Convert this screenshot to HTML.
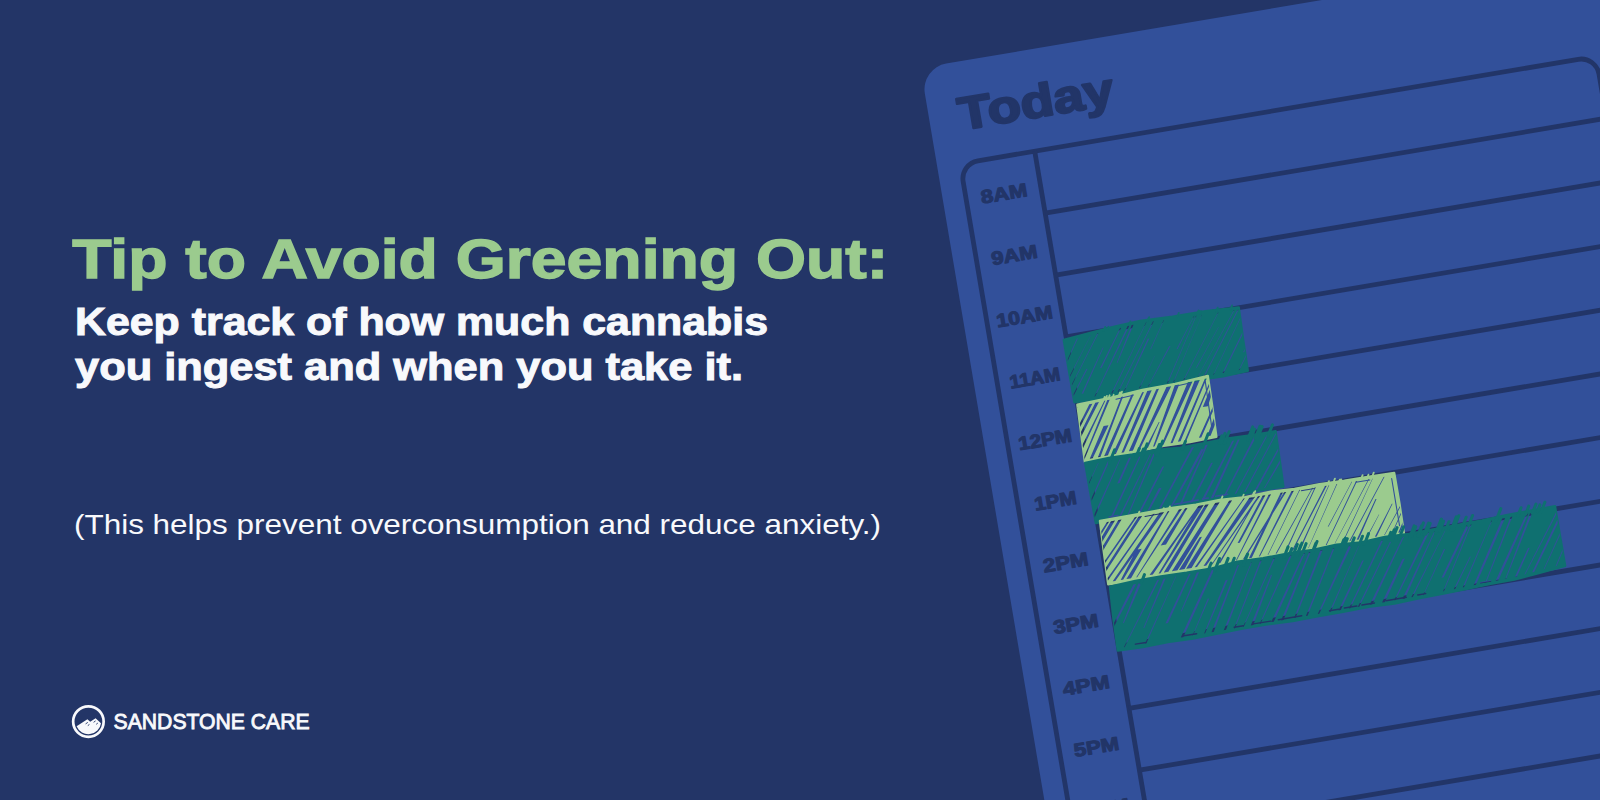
<!DOCTYPE html>
<html lang="en">
<head>
<meta charset="utf-8">
<title>Tip to Avoid Greening Out</title>
<style>
html,body{margin:0;padding:0;background:#233567;}
body{width:1600px;height:800px;overflow:hidden;position:relative;font-family:"Liberation Sans",sans-serif;}
svg{position:absolute;left:0;top:0;display:block;}
text{font-family:"Liberation Sans",sans-serif;}
</style>
</head>
<body>
<svg width="1600" height="800" viewBox="0 0 1600 800">
  <rect width="1600" height="800" fill="#233567"/>
  <!-- planner card -->
  <g id="card" transform="translate(920.5,67.9) rotate(-9.6)">
    <rect x="0" y="0" width="760" height="900" rx="26" fill="#32509a"/>
    <text x="29.6" y="68.2" font-size="46" font-weight="700" fill="#223568" stroke="#223568" stroke-width="2.2" stroke-linejoin="round" textLength="157" lengthAdjust="spacingAndGlyphs">Today</text>
    <g fill="none" stroke="#223568" stroke-width="4.8">
      <rect x="23.1" y="101.2" width="644.9" height="900" rx="18"/>
      <line x1="98.7" y1="101.2" x2="98.7" y2="900"/>
      <line x1="98.7" y1="164" x2="668" y2="164"/>
      <line x1="98.7" y1="226.8" x2="668" y2="226.8"/>
      <line x1="98.7" y1="289.5" x2="668" y2="289.5"/>
      <line x1="98.7" y1="352.3" x2="668" y2="352.3"/>
      <line x1="98.7" y1="415.1" x2="668" y2="415.1"/>
      <line x1="98.7" y1="477.9" x2="668" y2="477.9"/>
      <line x1="98.7" y1="540.7" x2="668" y2="540.7"/>
      <line x1="98.7" y1="603.4" x2="668" y2="603.4"/>
      <line x1="98.7" y1="666.2" x2="668" y2="666.2"/>
      <line x1="98.7" y1="729" x2="668" y2="729"/>
      <line x1="98.7" y1="791.8" x2="668" y2="791.8"/>
    </g>
    <g id="labels" font-size="18.8" font-weight="700" fill="#223568" stroke="#223568" stroke-width="1.1" stroke-linejoin="round">
      <text x="38" y="144.3" textLength="46.7" lengthAdjust="spacingAndGlyphs">8AM</text>
      <text x="38" y="206.6" textLength="46.5" lengthAdjust="spacingAndGlyphs">9AM</text>
      <text x="32.6" y="268.9" textLength="57" lengthAdjust="spacingAndGlyphs">10AM</text>
      <text x="35.5" y="331.3" textLength="51" lengthAdjust="spacingAndGlyphs">11AM</text>
      <text x="33.9" y="393.6" textLength="54" lengthAdjust="spacingAndGlyphs">12PM</text>
      <text x="39.5" y="455.9" textLength="42.5" lengthAdjust="spacingAndGlyphs">1PM</text>
      <text x="37.9" y="518.2" textLength="45.5" lengthAdjust="spacingAndGlyphs">2PM</text>
      <text x="37.7" y="580.5" textLength="45.5" lengthAdjust="spacingAndGlyphs">3PM</text>
      <text x="36.9" y="642.9" textLength="47" lengthAdjust="spacingAndGlyphs">4PM</text>
      <text x="37.5" y="705.2" textLength="45.5" lengthAdjust="spacingAndGlyphs">5PM</text>
      <text x="37.1" y="767.5" textLength="46" lengthAdjust="spacingAndGlyphs">6PM</text>
    </g>
    <g id="bars">
      <mask id="m1" maskUnits="userSpaceOnUse" x="0" y="200" width="760" height="500"><path d="M95.9 292 L124.2 289.6 L149.2 287.4 L174.3 286 L207 287.3 L240.4 287.5 L273.8 289.3 L272.8 321.2 L272.2 353.2 L247 354.5 L221.9 353.8 L196.7 354.5 L171.5 355.5 L146.3 354.8 L121.2 356.2 L96 355.5 L95.9 323.8 Z" fill="#fff" stroke="#fff" stroke-width="2.4" stroke-linejoin="round"/><clipPath id="c1"><path d="M95.9 292 L124.2 289.6 L149.2 287.4 L174.3 286 L207 287.3 L240.4 287.5 L273.8 289.3 L272.8 321.2 L272.2 353.2 L247 354.5 L221.9 353.8 L196.7 354.5 L171.5 355.5 L146.3 354.8 L121.2 356.2 L96 355.5 L95.9 323.8 Z"/></clipPath><path clip-path="url(#c1)" d="M54.1 353.8 L54.5 353.8 L94.8 294.3 L93.7 294.3Z M69.4 342 L71.1 342 L95.7 309.1 L94.2 309.1Z M68.7 353.7 L69.1 353.7 L110 293 L109 293Z M77.1 353.5 L78.4 353.5 L123.5 291.9 L123.1 291.9Z M84.5 353.4 L85.1 353.4 L131.2 291.3 L130.2 291.3Z M91.8 353.3 L92.9 353.3 L114.6 324.5 L113.3 324.5Z M104.5 348.2 L106.1 348.2 L133.8 306.3 L132.9 306.3Z M127 325.9 L128.6 325.9 L154.5 289.7 L153.4 289.7Z M116.7 353 L117.6 353 L162.9 289.1 L161.2 289.1Z M144.3 323.5 L145.1 323.5 L167.2 288.8 L165.4 288.8Z M133.8 352.8 L135 352.8 L180.4 288.4 L180 288.4Z M140.2 352.7 L141.2 352.7 L187.8 288.7 L187 288.7Z M146.7 352.6 L147.4 352.6 L180.5 305 L178.9 305Z M179.6 315.6 L180.5 315.6 L198.1 289.1 L197.7 289.1Z M162 352.4 L162.7 352.4 L183.1 323 L182.7 323Z M170.9 352.3 L171.4 352.3 L200.1 316 L198.7 316Z M205.4 320 L206.6 320 L228.7 290.1 L228.3 290.1Z M190.4 352.1 L191.3 352.1 L230.9 290.2 L230.4 290.2Z M196.7 352 L197.5 352 L236.4 290.4 L236.2 290.4Z M207 351.8 L207.9 351.8 L253 290.9 L252.5 290.9Z M221.6 341.7 L222.4 341.7 L250.9 305.1 L250.5 305.1Z M221.2 351.7 L221.6 351.7 L269.1 291.3 L268.4 291.3Z M227.6 351.6 L228.6 351.6 L273.3 291.5 L272.1 291.5Z M237.3 351.5 L237.9 351.5 L279.8 291.7 L279 291.7Z M246.9 351.3 L248.1 351.3 L290.8 292 L289.2 292Z M270.6 334.1 L271.9 334.1 L305 292.4 L304.6 292.4Z M263.3 351.1 L264.1 351.1 L306.4 292.5 L304.9 292.5Z" fill="#000"/></mask>
      <rect mask="url(#m1)" x="0" y="200" width="760" height="500" fill="#0f7070"/>
      <path d="M265 290.5 l2.6 -4.4 M163.1 287.7 l1.6 -2.7 M140.5 289.3 l1.6 -2.7 M136.7 289.9 l2.2 -3.7 M250.6 290 l2.5 -4.1 M181.7 287.6 l2.2 -3.7 M234.5 289 l1.5 -2.4 M211.3 288.9 l2.6 -4.3 M231.3 289.4 l2.4 -3.9 M181.7 287.2 l1.6 -2.7 M232.6 289.1 l1.8 -3" fill="none" stroke="#0f7070" stroke-width="1.8" stroke-linecap="round"/>
      <mask id="m2" maskUnits="userSpaceOnUse" x="0" y="200" width="760" height="500"><path d="M98.5 358.2 L131.8 357.1 L165 354.6 L198.5 354.1 L231.9 351.6 L231.2 382.3 L230.2 413 L203.4 413.8 L176.7 413.2 L149.9 414.3 L123.2 416.1 L96.4 416 Z" fill="#fff" stroke="#fff" stroke-width="2.4" stroke-linejoin="round"/><clipPath id="c2"><path d="M98.5 358.2 L131.8 357.1 L165 354.6 L198.5 354.1 L231.9 351.6 L231.2 382.3 L230.2 413 L203.4 413.8 L176.7 413.2 L149.9 414.3 L123.2 416.1 L96.4 416 Z"/></clipPath><path clip-path="url(#c2)" d="M61.5 414.6 L63.4 414.6 L98.4 360.5 L93.6 360.5Z M70.8 414.4 L72 414.4 L113.5 359.7 L110.4 359.7Z M76.9 414.2 L79 414.2 L120.2 359.3 L116.5 359.3Z M85.7 414 L88.5 414 L126.9 358.9 L125.7 358.9Z M94.7 413.8 L96 413.8 L131.2 358.7 L128.8 358.7Z M101.7 413.6 L104.7 413.6 L125.8 383.7 L120.8 383.7Z M110 413.5 L112.6 413.5 L145 357.9 L143 357.9Z M116.4 413.3 L120.2 413.3 L155.8 357.4 L153.5 357.4Z M124.6 413.1 L128.4 413.1 L166.3 356.8 L164.5 356.8Z M134 412.9 L136.5 412.9 L174.2 356.5 L169.7 356.5Z M141.5 412.7 L145.7 412.7 L181.6 356.1 L178.9 356.1Z M150.5 412.6 L152.7 412.6 L194.1 355.6 L189.3 355.6Z M158.5 412.4 L160.9 412.4 L176.7 388.9 L175.9 388.9Z M166.1 412.2 L167.8 412.2 L202.3 355.2 L197.8 355.2Z M174.6 412 L176.7 412 L215.9 354.6 L211.1 354.6Z M183.9 411.8 L186 411.8 L223.3 354.3 L218.1 354.3Z M191.4 411.6 L194.1 411.6 L230.4 353.9 L228.5 353.9Z M198.3 411.5 L200.3 411.5 L237 353.6 L235.6 353.6Z M221.8 381.5 L226.9 381.5 L241.6 353.4 L239.2 353.4Z M212.8 411.2 L215.2 411.2 L253.8 352.9 L251.8 352.9Z M221.2 411 L224.7 411 L260 352.6 L255.1 352.6Z" fill="#000"/><path d="M228.5 356.6 L227.2 404" fill="none" stroke="#000" stroke-width="1.1" stroke-linecap="round"/><path d="M137.5 359.4 L155.1 358.2 M200.6 356.3 L211.8 355.6" fill="none" stroke="#000" stroke-width="1" stroke-linecap="round"/></mask>
      <rect mask="url(#m2)" x="0" y="200" width="760" height="500" fill="#9bcb8e"/>
      <path d="M134.5 357.1 l1.5 -2.6 M125.3 357.5 l1.4 -2.4 M130 357.5 l1.9 -3.2 M142 357.3 l2.7 -4.5 M140.4 357.1 l2.3 -3.8 M127.1 357.7 l2 -3.3" fill="none" stroke="#9bcb8e" stroke-width="1.8" stroke-linecap="round"/>
      <mask id="m3" maskUnits="userSpaceOnUse" x="0" y="200" width="760" height="500"><path d="M96.5 417 L120.6 416 L144.8 416.6 L168.9 416.1 L193 417.8 L217.1 417.4 L241.3 416.7 L265.4 417.4 L289.5 417.5 L288 473.4 L260.7 473.1 L233.4 475.6 L206.1 474.7 L178.9 476.2 L151.6 476.7 L124.3 476.6 L97 478 L96.6 447.5 Z" fill="#fff" stroke="#fff" stroke-width="2.4" stroke-linejoin="round"/><clipPath id="c3"><path d="M96.5 417 L120.6 416 L144.8 416.6 L168.9 416.1 L193 417.8 L217.1 417.4 L241.3 416.7 L265.4 417.4 L289.5 417.5 L288 473.4 L260.7 473.1 L233.4 475.6 L206.1 474.7 L178.9 476.2 L151.6 476.7 L124.3 476.6 L97 478 L96.6 447.5 Z"/></clipPath><path clip-path="url(#c3)" d="M58.4 476.7 L59.9 476.7 L91.9 431.2 L89.8 431.2Z M69.6 476.4 L71.1 476.4 L109.7 419.2 L109.2 419.2Z M81.4 476.2 L82.7 476.2 L120.6 419.3 L119 419.3Z M92.4 475.9 L94.4 475.9 L131.8 419.3 L131 419.3Z M124.7 442.5 L127.1 442.5 L142.5 419.3 L140.4 419.3Z M112.1 475.4 L114.2 475.4 L152.5 419.3 L151.2 419.3Z M121.3 475.2 L123.1 475.2 L162.7 419.4 L161.7 419.4Z M129.8 475 L131 475 L167 419.4 L165.2 419.4Z M141.1 474.7 L143.2 474.7 L173.9 433.5 L172 433.5Z M149.9 474.5 L151.9 474.5 L167.8 454.1 L164.9 454.1Z M161.6 474.2 L163.5 474.2 L206.4 419.5 L204.1 419.5Z M173.5 473.9 L175.7 473.9 L218.9 419.5 L215.9 419.5Z M182.7 473.7 L184.8 473.7 L220.3 419.5 L218.7 419.5Z M193.4 473.5 L195.7 473.5 L222.4 438.1 L220.6 438.1Z M205 473.2 L207.6 473.2 L247.2 419.6 L245.3 419.6Z M214.2 472.9 L216.9 472.9 L252.7 419.6 L250.7 419.6Z M227.6 472.6 L229.3 472.6 L269.4 419.6 L267.2 419.6Z M238.7 472.4 L240.3 472.4 L281.3 419.7 L280.1 419.7Z M248.3 472.1 L249.8 472.1 L290.1 419.7 L289 419.7Z M259.3 471.9 L261.6 471.9 L302.6 419.7 L301.3 419.7Z M268.6 471.7 L269.6 471.7 L314.1 419.8 L310.9 419.8Z M294.7 451.8 L296.6 451.8 L323 419.8 L321.3 419.8Z" fill="#000"/><path d="M111.1 474.3 L120 474.2 M177.9 472.7 L201.9 472.3 M206.1 472 L212.1 472 M219.7 471.6 L231.8 471.6" fill="none" stroke="#000" stroke-width="1.5" stroke-linecap="round"/></mask>
      <rect mask="url(#m3)" x="0" y="200" width="760" height="500" fill="#0f7070"/>
      <path d="M268.1 421.2 l6.8 -11.3 M264.2 420.2 l4.9 -8.2 M169.3 420.2 l5.4 -8.9 M281.2 421 l6.3 -10.4 M167.2 420.3 l5.5 -9.2 M152.5 419.3 l3.8 -6.4 M120.3 421.2 l7.4 -12.3 M153 421.5 l7.8 -13 M147.5 419.8 l4.8 -8 M194.5 419.7 l4.5 -7.4 M168.7 421.6 l7.9 -13.2 M260.4 421.5 l7.3 -12.1 M214.9 421.6 l7.7 -12.9 M270.9 420.8 l6.1 -10.1 M232 419.5 l3.8 -6.4 M233.7 420.5 l5.6 -9.4 M237.1 421 l6.5 -10.8 M154.5 419.3 l3.8 -6.4 M269 419.8 l4.2 -7" fill="none" stroke="#0f7070" stroke-width="3" stroke-linecap="round"/>
      <mask id="m4" maskUnits="userSpaceOnUse" x="0" y="200" width="760" height="500"><path d="M101.4 476.7 L125.7 476.5 L150 476.1 L174.4 475.8 L198.7 476.7 L223 476 L248.2 477.4 L273.4 476.2 L298.6 477.4 L323.9 476.9 L349.1 477.8 L374.3 477.8 L399.5 478.4 L399.6 509.3 L399 540.2 L374 541 L349 540.9 L324 539.4 L299 540.3 L274 540.9 L249 539.5 L224 539.3 L199 540.5 L174 541.2 L149 541.1 L124 541.4 L99 540.5 L100 508.6 Z" fill="#fff" stroke="#fff" stroke-width="2.4" stroke-linejoin="round"/><clipPath id="c4"><path d="M101.4 476.7 L125.7 476.5 L150 476.1 L174.4 475.8 L198.7 476.7 L223 476 L248.2 477.4 L273.4 476.2 L298.6 477.4 L323.9 476.9 L349.1 477.8 L374.3 477.8 L399.5 478.4 L399.6 509.3 L399 540.2 L374 541 L349 540.9 L324 539.4 L299 540.3 L274 540.9 L249 539.5 L224 539.3 L199 540.5 L174 541.2 L149 541.1 L124 541.4 L99 540.5 L100 508.6 Z"/></clipPath><path clip-path="url(#c4)" d="M46.7 538.4 L49.3 538.4 L98.2 478.9 L95 478.9Z M54.7 538.3 L58.8 538.3 L110.2 478.9 L108.1 478.9Z M74.5 523.4 L77.8 523.4 L116.3 478.8 L112.2 478.8Z M68.8 538.3 L72.4 538.3 L122.9 478.8 L119.7 478.8Z M78.7 538.3 L80.6 538.3 L138.7 478.7 L136.4 478.7Z M86.1 538.3 L89 538.3 L143.8 478.7 L140.2 478.7Z M95.3 538.3 L97.9 538.3 L156.5 478.6 L154.9 478.6Z M103.9 538.3 L106.5 538.3 L166.1 478.5 L161.6 478.5Z M112 538.3 L114.6 538.3 L137.9 511.1 L132.4 511.1Z M117.8 538.3 L122.5 538.3 L171.5 478.5 L169.9 478.5Z M127.8 538.3 L128.7 538.3 L184.2 478.4 L181.2 478.4Z M157.2 510.9 L162.6 510.9 L189.9 478.4 L187.5 478.4Z M141.3 538.3 L144.6 538.3 L202.8 478.3 L200.9 478.3Z M150.4 538.2 L152.4 538.2 L206.3 478.3 L201.7 478.3Z M155.7 538.2 L160.4 538.2 L211.4 478.3 L207.8 478.3Z M163.9 538.2 L169.6 538.2 L222.5 478.2 L218 478.2Z M171.1 538.2 L176.8 538.2 L199.3 509.3 L197 509.3Z M178.3 538.2 L183.9 538.2 L235.1 478.3 L232.1 478.3Z M187.1 538.2 L189.4 538.2 L248 478.5 L246.7 478.5Z M196 538.2 L198.9 538.2 L258.4 478.6 L252.6 478.6Z M203.9 538.2 L205.1 538.2 L263.5 478.7 L261.3 478.7Z M211.2 538.2 L213.1 538.2 L262.3 478.7 L261.3 478.7Z M233.4 521.4 L235.6 521.4 L268.8 478.8 L266.1 478.8Z M228.8 538.2 L229.8 538.2 L274.5 478.9 L272.1 478.9Z M236 538.2 L237.7 538.2 L289.9 479.1 L287.7 479.1Z M242 538.2 L245 538.2 L286.5 479 L284.3 479Z M252.1 538.1 L253.3 538.1 L297.6 479.2 L295.1 479.2Z M261 538.1 L261.7 538.1 L303.9 479.3 L303.1 479.3Z M269.2 538.1 L270.3 538.1 L317 479.5 L316.1 479.5Z M278.5 538.1 L279.8 538.1 L319.8 479.5 L318.7 479.5Z M285.6 538.1 L286.8 538.1 L330.9 479.7 L329.1 479.7Z M292.8 538.1 L294.5 538.1 L333.4 479.7 L332.7 479.7Z M302.2 538.1 L302.6 538.1 L341.5 479.8 L340.7 479.8Z M325 520.3 L325.9 520.3 L356.6 480 L356.1 480Z M320 538.1 L320.9 538.1 L361.7 480.1 L360.4 480.1Z M329 538.1 L329.4 538.1 L373.9 480.2 L373 480.2Z M336.9 538.1 L337.9 538.1 L377.5 480.3 L377.1 480.3Z M343.8 538.1 L345 538.1 L389.4 480.5 L388.4 480.5Z M351.4 538 L353.4 538 L377.8 501 L376.7 501Z M360.8 538 L361.9 538 L377.8 516.9 L377.4 516.9Z M369.8 538 L371.7 538 L392.8 508.4 L392 508.4Z M379.3 538 L379.9 538 L425.5 480.9 L423.9 480.9Z M386.8 538 L387.6 538 L425.5 480.9 L424.4 480.9Z M393.5 538 L395.1 538 L431.3 481 L430.5 481Z" fill="#000"/><path d="M396.1 483.4 L396 531.2" fill="none" stroke="#000" stroke-width="1.1" stroke-linecap="round"/><path d="M146.5 479.7 L162.1 479.5 M305 480.4 L318.5 480.4 M360.2 481.2 L374.3 481.2" fill="none" stroke="#000" stroke-width="1" stroke-linecap="round"/></mask>
      <rect mask="url(#m4)" x="0" y="200" width="760" height="500" fill="#9bcb8e"/>
      <path d="M256.5 478.1 l3 -5 M139.6 477.7 l2.2 -3.7 M337 479.3 l3.1 -5.2 M164.9 477.2 l1.6 -2.6 M376.3 479.8 l3.1 -5.2 M246.1 477.1 l1.4 -2.4 M371.8 479.2 l2 -3.4 M365.5 479.3 l2.5 -4.1 M343.1 478.6 l1.6 -2.7 M332.1 478.5 l1.7 -2.9 M223.4 477.6 l2.9 -4.8 M344.4 478.6 l1.7 -2.8 M170.7 477.4 l2.1 -3.4 M255.9 477.6 l2 -3.4" fill="none" stroke="#9bcb8e" stroke-width="1.8" stroke-linecap="round"/>
      <mask id="m5" maskUnits="userSpaceOnUse" x="0" y="200" width="760" height="500"><path d="M100.3 543 L126.2 541.7 L152.2 541.6 L178.2 542.2 L204.1 542.2 L230.1 539.8 L256 540.6 L282 540 L306.4 540.8 L330.8 539.4 L355.2 541.3 L379.6 540 L404 541 L428.8 540.7 L453.5 540.1 L478.3 539.8 L503 538.6 L527.7 538.3 L552.5 538 L552.5 568.3 L552.6 598.5 L526.3 601.2 L500 603.5 L476 603.8 L452 604.9 L428 605.5 L404 606 L378 607.3 L352 606.2 L326 606.8 L300 607 L274.7 607.6 L249.3 606.5 L224 606.5 L198.7 607.3 L173.4 608 L148.1 607.4 L122.7 608.2 L97.4 607.4 L98.4 575.2 Z" fill="#fff" stroke="#fff" stroke-width="2.4" stroke-linejoin="round"/><clipPath id="c5"><path d="M100.3 543 L126.2 541.7 L152.2 541.6 L178.2 542.2 L204.1 542.2 L230.1 539.8 L256 540.6 L282 540 L306.4 540.8 L330.8 539.4 L355.2 541.3 L379.6 540 L404 541 L428.8 540.7 L453.5 540.1 L478.3 539.8 L503 538.6 L527.7 538.3 L552.5 538 L552.5 568.3 L552.6 598.5 L526.3 601.2 L500 603.5 L476 603.8 L452 604.9 L428 605.5 L404 606 L378 607.3 L352 606.2 L326 606.8 L300 607 L274.7 607.6 L249.3 606.5 L224 606.5 L198.7 607.3 L173.4 608 L148.1 607.4 L122.7 608.2 L97.4 607.4 L98.4 575.2 Z"/></clipPath><path clip-path="url(#c5)" d="M58.9 605.3 L59.5 605.3 L100.3 545.2 L98.4 545.2Z M69.3 605.3 L71.4 605.3 L96.9 563.1 L95.7 563.1Z M79.3 605.2 L81.2 605.2 L126.5 544.8 L123.8 544.8Z M106.9 581.2 L108 581.2 L131.8 544.7 L128.9 544.7Z M103.9 605.2 L104.6 605.2 L149.9 544.4 L148.1 544.4Z M126.3 589.5 L127.2 589.5 L156.5 544.3 L154.5 544.3Z M125.4 605.1 L126.7 605.1 L167.2 544.1 L166.7 544.1Z M148.8 588.7 L151.4 588.7 L182 543.9 L180.4 543.9Z M166.2 579.2 L167 579.2 L190.6 543.7 L188.4 543.7Z M161.6 605.1 L164.2 605.1 L206 543.5 L203.7 543.5Z M173.5 605 L174 605 L196.2 571.2 L194.7 571.2Z M185.3 605 L186.4 605 L217.6 556 L215.4 556Z M192.8 605 L195 605 L231.2 543.1 L229.8 543.1Z M205.2 605 L207.5 605 L244.2 542.8 L243.5 542.8Z M215.6 605 L216.7 605 L254.2 542.7 L252.6 542.7Z M224.8 604.9 L225.5 604.9 L267.8 542.4 L266.4 542.4Z M232.6 604.9 L235.2 604.9 L262.1 558.5 L260.9 558.5Z M241.5 604.9 L242.5 604.9 L285 542.2 L283.2 542.2Z M253.3 604.9 L256 604.9 L298.4 542.3 L296.7 542.3Z M263.4 604.9 L265.9 604.9 L303.9 542.4 L302.3 542.4Z M276.6 604.8 L278.2 604.8 L316.1 542.5 L313.8 542.5Z M288.6 604.8 L290.3 604.8 L328 542.6 L326.6 542.6Z M300.6 604.8 L302.1 604.8 L345.4 542.7 L342.8 542.7Z M312.4 604.7 L313.8 604.7 L353.7 542.8 L353.2 542.8Z M321.6 604.6 L324 604.6 L355 559.5 L353.5 559.5Z M332.2 604.5 L333.7 604.5 L377.2 543 L375.5 543Z M341.2 604.4 L342.8 604.4 L386.9 543.1 L385.7 543.1Z M353.4 604.3 L356.1 604.3 L398.4 543.1 L397.2 543.1Z M365.9 604.2 L368.7 604.2 L395.7 564.5 L393.4 564.5Z M378.2 604 L379.4 604 L424 542.8 L421.6 542.8Z M386.5 604 L389.2 604 L430.2 542.7 L429.3 542.7Z M395.6 603.9 L397.1 603.9 L441.3 542.5 L440.8 542.5Z M407.5 603.7 L408.2 603.7 L437.1 561.8 L435.8 561.8Z M428.7 589.5 L431 589.5 L465 542 L462.3 542Z M428 603.2 L428.9 603.2 L467.2 541.9 L466 541.9Z M438.9 602.9 L440.3 602.9 L461.1 573.5 L460.1 573.5Z M448 602.6 L449.3 602.6 L488.1 541.5 L487.5 541.5Z M459.1 602.3 L461.4 602.3 L501.3 541.3 L498.4 541.3Z M470.8 602 L471.8 602 L508.8 541.1 L506.9 541.1Z M481.5 601.7 L484.2 601.7 L525 540.8 L522.9 540.8Z M491.3 601.5 L492.1 601.5 L529.2 540.7 L526.7 540.7Z M501.1 601.1 L503.2 601.1 L520.6 574.8 L519 574.8Z M511 600.2 L511.9 600.2 L557.1 540.1 L555.5 540.1Z M519 599.4 L521 599.4 L563.3 540 L560.8 540Z M530.8 598.3 L531.5 598.3 L571.6 539.8 L569.7 539.8Z M543.1 597.2 L544.1 597.2 L580.9 539.6 L579.3 539.6Z" fill="#000"/><path d="M115.8 604 L126.4 604.1 M165 603.9 L177.9 604 M216 603.8 L225.4 603.9 M235.5 603.7 L253.1 603.9 M260.8 603.7 L284.5 603.8 M312.8 603.5 L321.9 603.6 M327.9 603.3 L340.4 603.4 M345.7 603.2 L358.3 603.2 M370.1 602.9 L390.7 602.9 M402.4 602.6 L410.4 602.6 M466.4 601 L476.6 600.9" fill="none" stroke="#000" stroke-width="1.5" stroke-linecap="round"/></mask>
      <rect mask="url(#m5)" x="0" y="200" width="760" height="500" fill="#0f7070"/>
      <path d="M430.4 544.7 l7.7 -12.8 M294.7 543.6 l6.2 -10.3 M434.7 543.4 l5.5 -9.2 M206.2 545 l6.8 -11.4 M491.6 543.1 l7.1 -11.8 M412.6 544.9 l7.4 -12.4 M403.9 544.6 l6.5 -10.8 M305.5 543 l5 -8.3 M382.3 543.1 l4 -6.7 M289.8 544 l7.1 -11.9 M418.7 544.2 l6.4 -10.7 M216 544.1 l5.5 -9.2 M305.6 543.8 l6.4 -10.7 M285.5 543.7 l6.6 -11.1 M514.4 541.2 l4.4 -7.4 M392.7 544.9 l7.1 -11.8 M276.7 543.3 l5.8 -9.7 M534.1 540.4 l3.8 -6.3 M345 542.9 l4.3 -7.2 M448.3 544.4 l7.8 -13.1 M334.5 542.7 l4.1 -6.8 M358.1 544 l6 -10.1 M420.7 543.9 l5.9 -9.8 M386 544.9 l7.3 -12.2 M335.1 543.5 l5.4 -9.1 M522.2 541.1 l4.5 -7.6 M406.4 543.9 l5.4 -8.9 M441.1 542.5 l4.2 -6.9 M538 541.1 l5.2 -8.7 M131.5 545.1 l4.8 -8.1 M282.2 542 l3.7 -6.1 M289.9 543.1 l5.5 -9.2 M412.5 543.7 l5.2 -8.6 M223 543.5 l4.6 -7.7 M430.6 544.8 l7.8 -13 M337.7 543 l4.6 -7.6 M457.7 542.9 l5.4 -8.9 M199.8 543.7 l4.2 -7 M446.2 544.1 l7.2 -12.1 M384.3 544 l5.7 -9.5 M353.1 543.2 l4.6 -7.7 M528.9 541.3 l5.2 -8.6 M385.8 544.9 l7.3 -12.1 M464 542.9 l5.7 -9.5 M235.3 544.1 l6.1 -10.1" fill="none" stroke="#0f7070" stroke-width="3" stroke-linecap="round"/>
    </g>
  </g>
  <!-- headline -->
  <text x="72.2" y="278.2" font-size="56" font-weight="700" fill="#9bcb8e" stroke="#9bcb8e" stroke-width="1.4" textLength="816" lengthAdjust="spacingAndGlyphs">Tip to Avoid Greening Out:</text>
  <text x="75" y="334.9" font-size="38" font-weight="700" fill="#f8f9fc" stroke="#f8f9fc" stroke-width="1.0" textLength="693" lengthAdjust="spacingAndGlyphs">Keep track of how much cannabis</text>
  <text x="75" y="379.6" font-size="38" font-weight="700" fill="#f8f9fc" stroke="#f8f9fc" stroke-width="1.0" textLength="668" lengthAdjust="spacingAndGlyphs">you ingest and when you take it.</text>
  <text x="74" y="534.2" font-size="28.3" fill="#f8f9fc" textLength="807" lengthAdjust="spacingAndGlyphs">(This helps prevent overconsumption and reduce anxiety.)</text>
  <!-- logo -->
  <g id="logo">
    <circle cx="88.4" cy="721.55" r="15.25" fill="none" stroke="#f8f9fc" stroke-width="2.7"/>
    <path d="M76.6 726.3 L87.4 719.2 L90.2 721.8 L95.6 718.3 L101.0 723.2 A12.75 12.75 0 0 1 76.6 726.3 Z" fill="#f8f9fc"/>
    <path d="M85.6 723.9 l2.2 -1.5 M87.8 725.6 l1.6 -1.1 M93.6 722.3 l2 -1.4 M96.2 724.3 l1.6 -1.2" fill="none" stroke="#233567" stroke-width="0.9"/>
    <text x="113.6" y="728.9" font-size="22.6" fill="#f8f9fc" stroke="#f8f9fc" stroke-width="0.9" textLength="196" lengthAdjust="spacingAndGlyphs">SANDSTONE CARE</text>
  </g>
</svg>
</body>
</html>
